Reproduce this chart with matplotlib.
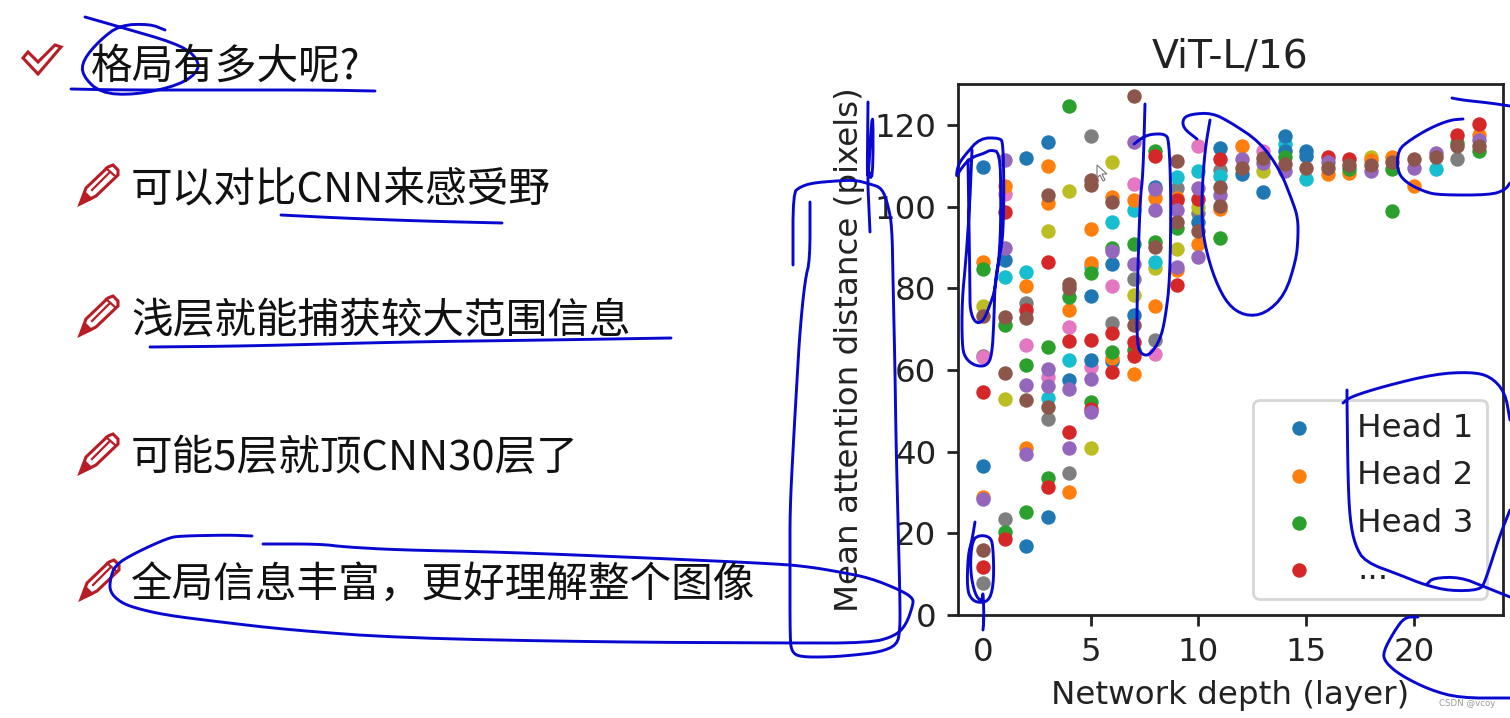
import matplotlib
matplotlib.use("Agg")
import matplotlib.pyplot as plt
import numpy as np

plt.rcParams["font.family"] = ["DejaVu Sans"]

CJK_FONT = ["Noto Sans CJK SC", "DejaVu Sans"]
INK = "#0808d0"
RED = "#b81c24"
WIDTH, HEIGHT = 1510, 718

# values, one pair of lists per colour
head1_layers = [0, 0, 1, 2, 2, 3, 3, 4, 5, 5, 6, 6, 7, 8, 10, 11, 12, 13, 14, 14, 15, 15]
head1_values = [109.8, 36.5, 86.9, 111.9, 17, 115.7, 24, 57.6, 78, 62.5, 86, 62.3, 73.5, 104.9, 96.1,
                114.3, 108, 103.5, 117.2, 113.7, 113.7, 112.4]
head2_layers = [0, 0, 1, 2, 2, 3, 3, 4, 4, 5, 5, 6, 6, 7, 7, 8, 8, 9, 9, 10, 11, 12, 16, 17, 18, 19, 20, 23]
head2_values = [86.3, 29, 105.1, 80.6, 40.8, 110, 100.8, 74.7, 30, 94.6, 86.1, 102.4, 62.9, 101.6, 59,
                102.2, 75.7, 102, 84.5, 90.8, 99.4, 114.9, 108, 108.2, 111.4, 112.1, 105.1, 117.6]
head3_layers = [0, 1, 1, 2, 2, 3, 3, 4, 4, 5, 5, 6, 6, 7, 7, 8, 8, 9, 11, 14, 17, 19, 19, 22, 23]
head3_values = [84.8, 71, 20.2, 61.2, 25.2, 65.5, 33.5, 124.7, 77.8, 83.7, 52.2, 89.8, 64.3, 90.8, 64.9,
                113.7, 91.4, 94.7, 92.2, 112.1, 109.2, 109.2, 98.8, 115.5, 113.7]
head4_layers = [0, 0, 1, 1, 2, 3, 3, 4, 4, 5, 5, 6, 6, 7, 7, 8, 9, 9, 10, 11, 16, 17, 22, 23]
head4_values = [54.7, 11.8, 98.7, 18.7, 74.7, 86.4, 31.4, 67.1, 44.9, 67.3, 50.4, 69, 59.5, 66.9, 63.3,
                112.4, 101.5, 80.8, 101.9, 111.6, 112.1, 111.6, 117.6, 120.3]
head5_layers = [0, 1, 1, 2, 2, 3, 3, 4, 4, 5, 5, 6, 7, 7, 8, 8, 9, 9, 10, 10, 11, 12, 13, 14, 16, 18, 20, 21, 23]
head5_values = [28.3, 111.4, 89.8, 56.2, 39.4, 60.2, 56.1, 55.4, 41, 57.7, 49.6, 89, 115.8, 85.9, 104.3,
                99.2, 99.2, 85.3, 104.5, 87.6, 102.9, 111.6, 110.6, 108.6, 111, 108.8, 109.4, 113, 116.2]
head6_layers = [0, 0, 1, 1, 2, 2, 3, 3, 4, 4, 5, 5, 6, 7, 7, 8, 9, 9, 10, 11, 11, 12, 13, 14, 15, 16, 17, 18,
                19, 20, 21, 22, 23]
head6_values = [73.2, 15.9, 72.9, 59.3, 72.6, 52.7, 102.9, 50.9, 81, 80, 106.4, 105.3, 101, 127.1, 70.9, 90,
                111.2, 96.3, 93.9, 104.7, 100.2, 109.4, 111.8, 110.5, 109.4, 109.4, 110.2, 110.2, 110.8,
                111.6, 112.1, 114.9, 114.9]
head7_layers = [0, 1, 2, 3, 4, 5, 6, 7, 8, 10, 13]
head7_values = [63.2, 103.1, 66.2, 58.2, 70.6, 60.8, 80.6, 105.5, 64, 114.7, 113.5]
head8_layers = [0, 0, 1, 2, 3, 4, 5, 6, 7, 8, 9, 10, 11, 22]
head8_values = [63.3, 7.9, 23.4, 76.5, 47.9, 34.7, 117.2, 71.4, 82.3, 67.3, 104.5, 98.4, 109, 111.6]
head9_layers = [0, 1, 3, 4, 5, 6, 7, 8, 9, 10, 13, 18]
head9_values = [75.7, 53, 94.1, 103.9, 40.9, 111, 78.4, 84.9, 89.6, 100, 108.6, 112.1]
head10_layers = [1, 2, 3, 4, 5, 6, 7, 8, 9, 10, 11, 14, 15, 21]
head10_values = [82.7, 84, 53.1, 62.5, 85.1, 96.3, 99.2, 86.5, 107.2, 108.7, 107.4, 115.4, 106.8, 109.2]

legend_labels = ["Head 1", "Head 2", "Head 3", "..."]
x_ticks = [0, 5, 10, 15, 20]
y_ticks = [0, 20, 40, 60, 80, 100, 120]

slide_lines = [
    ("格局有多大呢?", 91, 67),
    ("可以对比CNN来感受野", 131, 190),
    ("浅层就能捕获较大范围信息", 131, 322),
    ("可能5层就顶CNN30层了", 131, 459),
    ("全局信息丰富\uff0c更好理解整个图像", 131, 585),
]
pencil_tips = [(80, 204), (80, 335), (80, 473), (81, 599)]

# pen strokes over the slide, in image pixels
strokes = [
    [(85, 17), (120, 27), (175, 43), (195, 55), (200, 70), (180, 85), (135, 95), (100, 93), (82, 75), (83, 60),
     (100, 40), (120, 25), (150, 24), (165, 30)],
    [(71, 89), (120, 90), (225, 90), (323, 90), (375, 91)],
    [(281, 215), (340, 218), (420, 221), (502, 223)],
    [(150, 347), (250, 346), (400, 342), (550, 340), (671, 338)],
    [(252, 536), (228, 535), (180, 536), (168, 538), (135, 553), (115, 565), (110, 580), (110, 592), (120, 602),
     (135, 608), (165, 615), (220, 622), (290, 630), (400, 638), (600, 642), (780, 643), (870, 643), (895, 636),
     (906, 625), (913, 605), (913, 598), (900, 590), (870, 578), (840, 572), (810, 567), (780, 564), (650, 558),
     (500, 552), (400, 550), (345, 547), (320, 544), (263, 544)],
    [(793, 265), (793, 193), (800, 187), (812, 183), (835, 181), (855, 180), (870, 184), (882, 188), (888, 205),
     (892, 226), (893, 280), (895, 370), (896, 440), (898, 520), (900, 600), (900, 630), (897, 645), (880, 652),
     (855, 655), (830, 657), (800, 657), (792, 652), (790, 640), (790, 560), (790, 510), (793, 450), (797, 380),
     (800, 330), (805, 280), (810, 260), (810, 202)],
    [(868, 102), (867, 200), (873, 96), (873, 185), (867, 165), (870, 232)],
    [(972, 150), (970, 200), (966, 260), (962, 300), (962, 345), (965, 358), (975, 366), (987, 366), (992, 355),
     (994, 320), (995, 280), (1000, 255), (1003, 235), (1004, 190), (1003, 143), (1000, 138), (980, 138),
     (965, 155), (958, 165), (956, 178), (960, 170), (970, 158), (985, 153), (990, 150), (1000, 152), (1001, 200),
     (1000, 250), (995, 290), (990, 305), (983, 322), (975, 323), (970, 310), (970, 290), (968, 160)],
    [(975, 522), (972, 540), (968, 555), (967, 590), (972, 600), (980, 603), (990, 600), (994, 580), (993, 545),
     (990, 537), (980, 535), (972, 540), (970, 570), (975, 595), (982, 602), (983, 590), (984, 617), (983, 630)],
    [(1145, 104), (1143, 175), (1140, 200), (1137, 300), (1137, 345), (1142, 355), (1150, 355), (1160, 340),
     (1165, 320), (1170, 280), (1171, 195), (1169, 140), (1165, 134), (1152, 134), (1143, 137), (1134, 144)],
    [(1197, 139), (1183, 128), (1183, 118), (1192, 114), (1212, 113), (1230, 122), (1260, 142), (1280, 170),
     (1292, 200), (1298, 218), (1298, 240), (1296, 260), (1285, 295), (1265, 314), (1245, 316), (1228, 305),
     (1215, 280), (1206, 250), (1202, 225), (1202, 190), (1205, 150), (1210, 120)],
    [(1463, 119), (1450, 120), (1430, 128), (1410, 140), (1398, 150), (1397, 170), (1405, 182), (1425, 192),
     (1440, 195), (1490, 195), (1505, 190), (1510, 183)],
    [(1452, 98), (1462, 100), (1490, 103), (1510, 106)],
    [(1343, 403), (1350, 397), (1385, 386), (1435, 374), (1470, 372), (1490, 376), (1505, 392), (1510, 420)],
    [(1510, 510), (1500, 535), (1485, 582), (1480, 590), (1450, 591), (1425, 585), (1400, 575), (1365, 562),
     (1355, 545), (1350, 520), (1348, 480), (1347, 400), (1347, 390)],
    [(1427, 584), (1433, 578), (1460, 577), (1485, 587), (1510, 597)],
    [(1418, 617), (1405, 617), (1395, 630), (1383, 652), (1385, 662), (1400, 675), (1430, 690), (1460, 698),
     (1510, 698)],
]


def smooth(points, rounds=2):
    """Round off a pen stroke (Chaikin corner cutting)."""
    pts = np.array(points, dtype=float)
    for _ in range(rounds):
        a, b = pts[:-1], pts[1:]
        middle = np.empty((2 * len(a), 2))
        middle[0::2] = 0.75 * a + 0.25 * b
        middle[1::2] = 0.25 * a + 0.75 * b
        pts = np.vstack([pts[:1], middle, pts[-1:]])
    return pts


def draw_pencil(ax, tip_x, tip_y):
    body = [(0, 0), (6, -16), (28, -37), (33, -39), (38, -34), (38, -29), (16, -8)]
    tip = [(0, 0), (5, -12), (12, -5)]
    ax.fill([tip_x + p[0] for p in body], [tip_y + p[1] for p in body], fc="white", ec=RED, lw=2.2)
    ax.fill([tip_x + p[0] for p in tip], [tip_y + p[1] for p in tip], fc=RED, ec=RED, lw=1)
    ax.plot([tip_x + 12, tip_x + 29], [tip_y - 14, tip_y - 31], color=RED, lw=1.6)
    ax.plot([tip_x + 26, tip_x + 35], [tip_y - 36, tip_y - 28], color=RED, lw=1.6)


def draw_chart(fig):
    ax = fig.add_axes([958 / WIDTH, 1 - 615 / HEIGHT, 545 / WIDTH, 531 / HEIGHT])
    heads = {
        "C0": (head1_layers, head1_values),
        "C1": (head2_layers, head2_values),
        "C2": (head3_layers, head3_values),
        "C3": (head4_layers, head4_values),
        "C4": (head5_layers, head5_values),
        "C5": (head6_layers, head6_values),
        "C6": (head7_layers, head7_values),
        "C7": (head8_layers, head8_values),
        "C8": (head9_layers, head9_values),
        "C9": (head10_layers, head10_values),
    }
    # stacking as it looks in the picture, brown ends up on top
    draw_order = ["C7", "C8", "C9", "C6", "C0", "C1", "C2", "C3", "C4", "C5"]
    marks = {}
    for color in draw_order:
        layers, values = heads[color]
        marks[color] = ax.scatter(layers, values, s=108, color=color, linewidths=0)

    ax.set_xlim(-1.16, 24.13)
    ax.set_ylim(0, 130)
    ax.set_xticks(x_ticks)
    ax.set_yticks(y_ticks)
    ax.tick_params(labelsize=23.3, width=2, length=7.8, pad=7.8, color="#222222", labelcolor="#222222")
    for spine in ax.spines.values():
        spine.set_linewidth(2)
        spine.set_color("#222222")
    ax.set_title("ViT-L/16", fontsize=28.4, pad=12, color="#222222")
    ax.set_xlabel("Network depth (layer)", fontsize=23.4, labelpad=9, color="#222222")
    ax.set_ylabel("Mean attention distance (pixels)", fontsize=23.4, labelpad=7, color="#222222")
    legend_marks = [marks[c] for c in ["C0", "C1", "C2", "C3"]]
    legend = ax.legend(legend_marks, legend_labels, loc="lower right", fontsize=23.4, labelcolor="#222222")
    legend.get_frame().set_linewidth(2)


def draw_overlay(fig):
    ax = fig.add_axes([0, 0, 1, 1], zorder=5)
    ax.set_xlim(0, WIDTH)
    ax.set_ylim(HEIGHT, 0)
    ax.axis("off")
    ax.patch.set_alpha(0)

    for text, x, y in slide_lines:
        ax.text(x, y, text, fontsize=30, family=CJK_FONT, va="center", ha="left", color="#111111")

    check = [(23, 58), (28, 52), (38, 62), (55, 45), (61, 47), (38, 74)]
    ax.fill([p[0] for p in check], [p[1] for p in check], fc="white", ec=RED, lw=2.2)
    for tip_x, tip_y in pencil_tips:
        draw_pencil(ax, tip_x, tip_y)

    for stroke in strokes:
        pts = smooth(stroke)
        ax.plot(pts[:, 0], pts[:, 1], color=INK, lw=2.1, solid_capstyle="round", solid_joinstyle="round")

    cursor = [(1097, 165), (1097, 178), (1100, 175), (1103, 181), (1105, 180), (1102, 174), (1107, 174)]
    ax.fill([p[0] for p in cursor], [p[1] for p in cursor], fc="white", ec="#777777", lw=0.8)

    ax.text(1439, 703, "CSDN @vcoy", fontsize=6.2, color="#999999", va="center", ha="left")


fig = plt.figure(figsize=(WIDTH / 100, HEIGHT / 100), dpi=100)
draw_chart(fig)
draw_overlay(fig)
fig.savefig("out.png", dpi=100)
